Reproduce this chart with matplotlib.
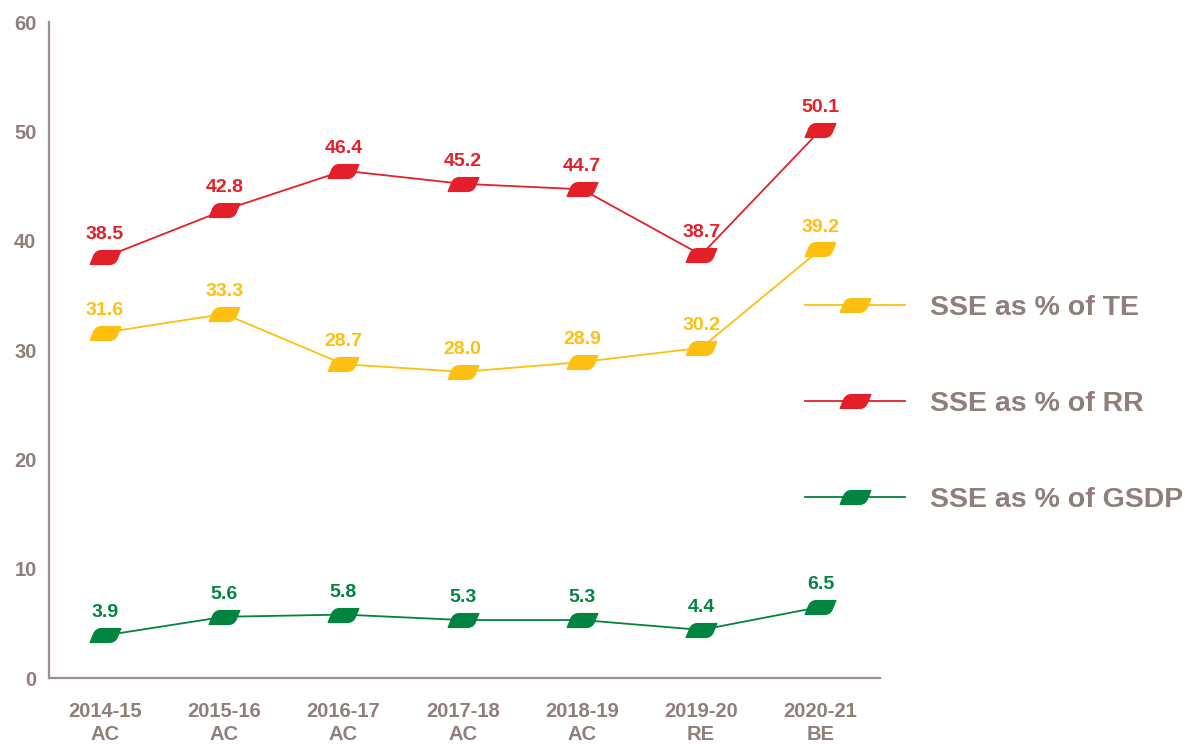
import matplotlib.pyplot as plt
from matplotlib.path import Path
from matplotlib.lines import Line2D

years = ['2014-15\nAC', '2015-16\nAC', '2016-17\nAC', '2017-18\nAC',
         '2018-19\nAC', '2019-20\nRE', '2020-21\nBE']
sse_te = [31.6, 33.3, 28.7, 28.0, 28.9, 30.2, 39.2]
sse_rr = [38.5, 42.8, 46.4, 45.2, 44.7, 38.7, 50.1]
sse_gsdp = [3.9, 5.6, 5.8, 5.3, 5.3, 4.4, 6.5]

series = [
    ('SSE as % of TE', sse_te, '#FDC010'),
    ('SSE as % of RR', sse_rr, '#E3202A'),
    ('SSE as % of GSDP', sse_gsdp, '#00843F'),
]

grey = '#8E7F7A'
plt.rcParams['font.family'] = ['Liberation Sans', 'DejaVu Sans']
plt.rcParams['font.weight'] = 'bold'

# slanted leaf marker: rounded top-left and bottom-right corners
C3 = Path.CURVE3
leaf = Path(
    [(-1.0, -0.45), (-0.75, 0.15), (-0.6, 0.45), (-0.25, 0.45),
     (1.0, 0.45), (0.75, -0.15), (0.6, -0.45), (0.25, -0.45), (-1.0, -0.45)],
    [Path.MOVETO, Path.LINETO, C3, C3, Path.LINETO, Path.LINETO, C3, C3, Path.CLOSEPOLY])

fig = plt.figure(figsize=(11.85, 7.44), dpi=100)
ax = fig.add_axes([49 / 1185, 66 / 744, 831 / 1185, 656 / 744])

x = list(range(len(years)))
handles = []
for label, vals, col in series:
    ax.plot(x, vals, color=col, lw=1.3, marker=leaf, ms=22, mec=col, mfc=col,
            clip_on=False, zorder=3)
    for xi, v in zip(x, vals):
        ax.annotate(f'{v:.1f}', (xi, v), xytext=(0, 10), textcoords='offset points',
                    ha='center', va='bottom', color=col, fontsize=14, fontweight='bold')
    handles.append(Line2D([], [], color=col, lw=1.3, marker=leaf, ms=22, mec=col, mfc=col,
                          label=label))

ax.set_xlim(-0.47, 6.5)
ax.set_ylim(0, 60)
ax.set_yticks(range(0, 61, 10))
ax.set_xticks(x)
ax.set_xticklabels(years, linespacing=1.3)
ax.tick_params(axis='both', length=0, labelsize=14.5, labelcolor=grey)
ax.tick_params(axis='x', pad=17)
ax.tick_params(axis='y', pad=9)
for t in ax.get_xticklabels() + ax.get_yticklabels():
    t.set_fontweight('bold')

for s in ['top', 'right']:
    ax.spines[s].set_visible(False)
for s in ['left', 'bottom']:
    ax.spines[s].set_color('#9C8E89')
    ax.spines[s].set_linewidth(1.6)

leg = fig.legend(handles=handles, loc='center left',
                 bbox_to_anchor=(805 / 1185, (744 - 404) / 744),
                 frameon=False, fontsize=20.5, handlelength=3.5, handletextpad=0.9,
                 labelspacing=2.45, borderpad=0, borderaxespad=0, numpoints=1)
for t in leg.get_texts():
    t.set_color(grey)
    t.set_fontweight('bold')

fig.savefig('out.png', dpi=100)
